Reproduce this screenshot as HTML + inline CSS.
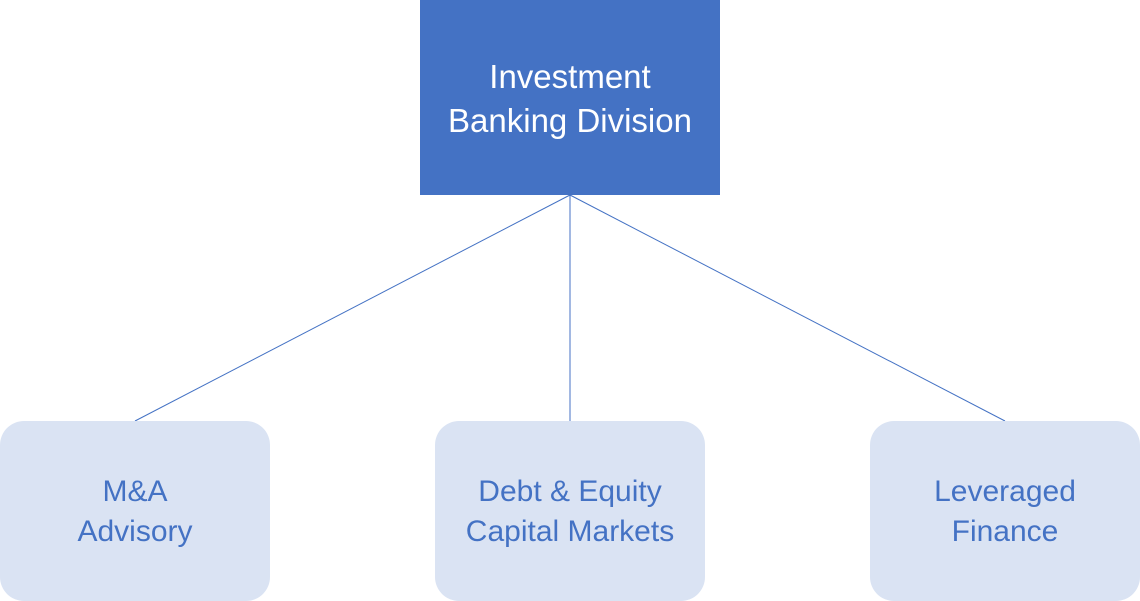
<!DOCTYPE html>
<html><head><meta charset="utf-8"><style>
html,body{margin:0;padding:0;width:1140px;height:601px;background:#fff;overflow:hidden;font-family:"Liberation Sans",sans-serif}
.top{position:absolute;left:420px;top:0;width:300px;height:195px;background:#4472C4;color:#fff;font-size:33px;line-height:44px;text-align:center;display:flex;align-items:center;justify-content:center;padding-top:2px;box-sizing:border-box}
.b{position:absolute;top:421px;width:270px;height:180px;background:#DAE3F3;border-radius:24px;color:#4472C4;font-size:30px;line-height:40px;text-align:center;display:flex;align-items:center;justify-content:center;padding-top:2px;box-sizing:border-box}
svg{position:absolute;left:0;top:0}
</style></head><body>
<svg width="1140" height="601"><g stroke="#4472C4" stroke-width="1" fill="none">
<line x1="570" y1="195" x2="135" y2="421"/>
<line x1="570" y1="195" x2="570" y2="421"/>
<line x1="570" y1="195" x2="1005" y2="421"/>
</g></svg>
<div class="top">Investment<br>Banking Division</div>
<div class="b" style="left:0">M&amp;A<br>Advisory</div>
<div class="b" style="left:435px">Debt &amp; Equity<br>Capital Markets</div>
<div class="b" style="left:870px">Leveraged<br>Finance</div>
</body></html>
